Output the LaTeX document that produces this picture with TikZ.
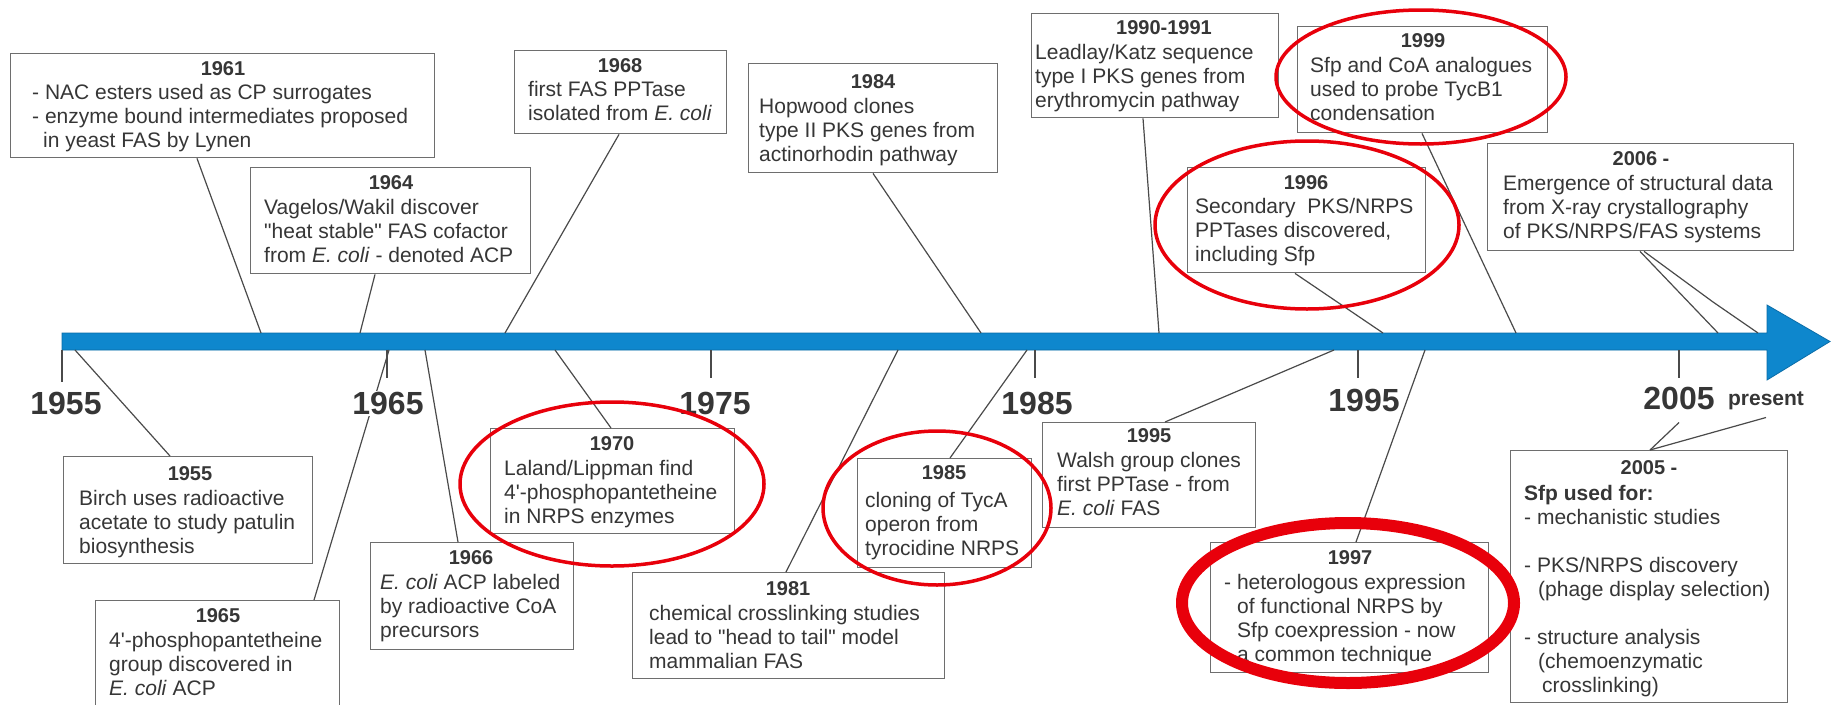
\documentclass[tikz,border=0pt]{standalone}
\usepackage{fontspec}
\setmainfont{Liberation Sans}[Ligatures=TeXOff]
\definecolor{barblue}{HTML}{0E87CD}
\definecolor{bardark}{HTML}{0B6DA8}
\definecolor{txt}{HTML}{363636}
\definecolor{boxline}{HTML}{6E6E6E}
\definecolor{connc}{HTML}{4A4A4A}
\definecolor{hilite}{HTML}{E8000B}
\begin{document}
\begin{tikzpicture}[x=1pt,y=-1pt,
  evbox/.style={draw=boxline, line width=1.4pt, fill=white, rectangle, inner sep=0pt, anchor=north west},
  head/.style={font=\fontsize{20}{24}\selectfont\bfseries, text=txt, anchor=base, inner sep=0pt},
  body/.style={font=\fontsize{21}{24}\selectfont, text=txt, anchor=north west, align=left, inner sep=0pt},
  yearlab/.style={font=\fontsize{32}{36}\selectfont\bfseries, text=txt, fill=white, inner sep=1pt, anchor=base},
  connl/.style={draw=connc, line width=1.2pt},
  tickl/.style={draw=connc, line width=1.4pt},
  ring/.style={draw=hilite, line width=3.5pt},
]
\useasboundingbox (0,0) rectangle (1835,704);
\fill[white] (0,0) rectangle (1835,704);

% timeline bar with arrow head
\filldraw[fill=barblue, draw=bardark, line width=0.8pt]
  (62,333) -- (1767,333) -- (1767,305) -- (1830,341.5) -- (1767,380) -- (1767,350) -- (62,350) -- cycle;

% points on the bar
\coordinate (t1961) at (261,333);
\coordinate (t1964) at (360,333);
\coordinate (t1968) at (505,333);
\coordinate (t1984) at (981,333);
\coordinate (t1990) at (1159,333);
\coordinate (t1996) at (1383,333);
\coordinate (t1999) at (1516,333);
\coordinate (t2006a) at (1718,333);
\coordinate (k2006) at (1713,302);
\coordinate (t2006b) at (1758,333);
\coordinate (b1955p) at (75,350);
\coordinate (b1965p) at (389,350);
\coordinate (b1966p) at (425,350);
\coordinate (b1970p) at (555,350);
\coordinate (b1981p) at (898,350);
\coordinate (b1985p) at (1027,350);
\coordinate (b1995p) at (1334,350);
\coordinate (b1997p) at (1425,350);

% ticks
\draw[tickl] (62,350) -- (62,382);
\draw[tickl] (387,350) -- (387,378);
\draw[tickl] (711,350) -- (711,378);
\draw[tickl] (1035,350) -- (1035,378);
\draw[tickl] (1358,350) -- (1358,378);
\draw[tickl] (1679,350) -- (1679,378);

% boxes
\node[evbox, minimum width=424pt, minimum height=104pt] (b1961) at (10,53) {};
\node[evbox, minimum width=280pt, minimum height=106pt] (b1964) at (250,167) {};
\node[evbox, minimum width=212pt, minimum height=83pt] (b1968) at (514,50) {};
\node[evbox, minimum width=249pt, minimum height=109pt] (b1984) at (748,63) {};
\node[evbox, minimum width=247pt, minimum height=104pt] (b1990) at (1031,13) {};
\node[evbox, minimum width=250pt, minimum height=106pt] (b1999) at (1297,26) {};
\node[evbox, minimum width=238pt, minimum height=105pt] (b1996) at (1187,167) {};
\node[evbox, minimum width=306pt, minimum height=107pt] (b2006) at (1487,143) {};
\node[evbox, minimum width=249pt, minimum height=107pt] (b1955) at (63,456) {};
\node[evbox, minimum width=244pt, minimum height=112pt] (b1965) at (95,600) {};
\node[evbox, minimum width=203pt, minimum height=107pt] (b1966) at (370,542) {};
\node[evbox, minimum width=244pt, minimum height=105pt] (b1970) at (490,428) {};
\node[evbox, minimum width=312pt, minimum height=106pt] (b1981) at (632,572) {};
\node[evbox, minimum width=174pt, minimum height=109pt] (b1985) at (857,458) {};
\node[evbox, minimum width=213pt, minimum height=105pt] (b1995) at (1042,422) {};
\node[evbox, minimum width=278pt, minimum height=130pt] (b1997) at (1210,542) {};
\node[evbox, minimum width=277pt, minimum height=252pt] (b2005) at (1510,450) {};

% connectors
\draw[connl] ([xshift=187pt]b1961.south west) -- (t1961);
\draw[connl] ([xshift=125pt]b1964.south west) -- (t1964);
\draw[connl] ([xshift=105pt]b1968.south west) -- (t1968);
\draw[connl] ([xshift=125pt]b1984.south west) -- (t1984);
\draw[connl] ([xshift=112pt]b1990.south west) -- (t1990);
\draw[connl] ([xshift=125pt]b1999.south west) -- (t1999);
\draw[connl] ([xshift=108pt]b1996.south west) -- (t1996);
\draw[connl] ([xshift=153pt]b2006.south west) -- (t2006a);
\draw[connl] ([xshift=157pt]b2006.south west) -- (k2006) -- (t2006b);
\draw[connl] ([xshift=107pt]b1955.north west) -- (b1955p);
\draw[connl] ([xshift=219pt]b1965.north west) -- (b1965p);
\draw[connl] ([xshift=88pt]b1966.north west) -- (b1966p);
\draw[connl] ([xshift=121pt]b1970.north west) -- (b1970p);
\draw[connl] ([xshift=154pt]b1981.north west) -- (b1981p);
\draw[connl] ([xshift=93pt]b1985.north west) -- (b1985p);
\draw[connl] ([xshift=123pt]b1995.north west) -- (b1995p);
\draw[connl] ([xshift=146pt]b1997.north west) -- (b1997p);

% year labels on the axis
\node[yearlab] (y1955) at (66,414.5) {1955};
\node[yearlab] (y1965) at (388,414.5) {1965};
\node[yearlab] (y1975) at (715,414.5) {1975};
\node[yearlab] (y1985) at (1037,414.5) {1985};
\node[yearlab] (y1995) at (1364,411.5) {1995};
\node[yearlab] (y2005) at (1679,409.5) {2005};
\node[font=\fontsize{21}{24}\selectfont\bfseries, text=txt, anchor=base, inner sep=0pt] (present) at (1766,405.5) {present};

\draw[connl] ([xshift=140pt]b2005.north west) -- ([yshift=-13pt]y2005.base);
\draw[connl] ([xshift=140pt]b2005.north west) -- ([yshift=-12pt]present.base);

% headings
\node[head] (h1961) at (223,75) {1961};
\node[head] (h1964) at (391,189) {1964};
\node[head] (h1968) at (620,72) {1968};
\node[head] (h1984) at (873,88) {1984};
\node[head] (h1990) at (1164,34) {1990-1991};
\node[head] (h1999) at (1423,47) {1999};
\node[head] (h1996) at (1306,189) {1996};
\node[head] (h2006) at (1641,165) {2006 -};
\node[head] (h1955) at (190,480) {1955};
\node[head] (h1965) at (218,622) {1965};
\node[head] (h1966) at (471,564) {1966};
\node[head] (h1970) at (612,450) {1970};
\node[head] (h1981) at (788,595) {1981};
\node[head] (h1985) at (944,479) {1985};
\node[head] (h1995) at (1149,442) {1995};
\node[head] (h1997) at (1350,564) {1997};
\node[head] (h2005) at (1649,474) {2005 -};

% body texts (north west = top of first line)
\node[body] (x1961) at (32,84) {- NAC esters used as CP surrogates\\- enzyme bound intermediates proposed\\\hspace*{11pt}in yeast FAS by Lynen};
\node[body] (x1964) at (264,199) {Vagelos/Wakil discover\\"heat stable" FAS cofactor\\from \textit{E. coli} - denoted ACP};
\node[body] (x1968) at (528,81) {first FAS PPTase\\isolated from \textit{E. coli}};
\node[body] (x1984) at (759,98) {Hopwood clones\\type II PKS genes from\\actinorhodin pathway};
\node[body] (x1990) at (1035,44) {Leadlay/Katz sequence\\type I PKS genes from\\erythromycin pathway};
\node[body] (x1999) at (1310,57) {Sfp and CoA analogues\\used to probe TycB1\\condensation};
\node[body] (x1996) at (1195,198) {Secondary\ \ PKS/NRPS\\PPTases discovered,\\including Sfp};
\node[body] (x2006) at (1503,175) {Emergence of structural data\\from X-ray crystallography\\of PKS/NRPS/FAS systems};
\node[body] (x1955) at (79,490) {Birch uses radioactive\\acetate to study patulin\\biosynthesis};
\node[body] (x1965) at (109,632) {4'-phosphopantetheine\\group discovered in\\\textit{E. coli} ACP};
\node[body] (x1966) at (380,574) {\textit{E. coli} ACP labeled\\by radioactive CoA\\precursors};
\node[body] (x1970) at (504,460) {Laland/Lippman find\\4'-phosphopantetheine\\in NRPS enzymes};
\node[body] (x1981) at (649,605) {chemical crosslinking studies\\lead to "head to tail" model\\mammalian FAS};
\node[body] (x1985) at (865,492) {cloning of TycA\\operon from\\tyrocidine NRPS};
\node[body] (x1995) at (1057,452) {Walsh group clones\\first PPTase - from\\\textit{E. coli} FAS};
\node[body] (x1997) at (1224,574) {- heterologous expression\\\hspace*{13pt}of functional NRPS by\\\hspace*{13pt}Sfp coexpression - now\\\hspace*{13pt}a common technique};
\node[body] (x2005) at (1524,485) {\textbf{Sfp used for:}\\- mechanistic studies\\[24pt]- PKS/NRPS discovery\\\hspace*{14pt}(phage display selection)\\[24pt]- structure analysis\\\hspace*{14pt}(chemoenzymatic\\\hspace*{18pt}crosslinking)};

% red highlight ellipses
\draw[ring] (612,484) ellipse [x radius=152, y radius=82];
\draw[ring] (937,508) ellipse [x radius=114, y radius=77];
\draw[ring] (1421,77) ellipse [x radius=145, y radius=67];
\draw[ring] (1307,225) ellipse [x radius=152, y radius=84];
\draw[ring, line width=12pt] (1348,603) ellipse [x radius=166, y radius=80];
\end{tikzpicture}
\end{document}
